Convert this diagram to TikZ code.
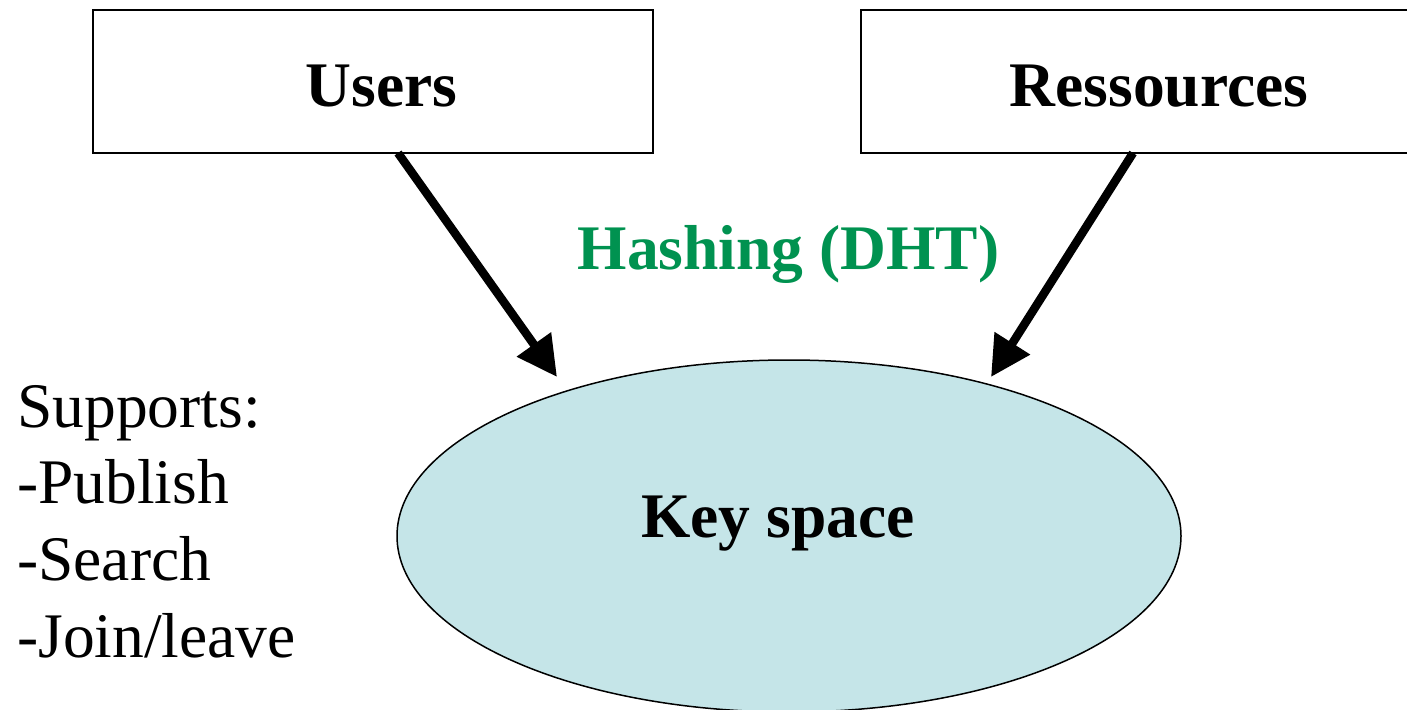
\documentclass[tikz,border=0pt]{standalone}
\usepackage{fontspec}
\setmainfont{Liberation Serif}
\usetikzlibrary{arrows.meta,shapes.geometric}
\definecolor{keyfill}{RGB}{197,229,232}
\definecolor{hashgreen}{RGB}{0,146,80}
\tikzset{
  boxstyle/.style={draw=black,line width=2pt,fill=white,rectangle,inner sep=0pt},
  bigtext/.style={font=\fontsize{63.5}{75}\selectfont,inner sep=0pt,anchor=base},
  boldtext/.style={bigtext,font=\fontsize{63.5}{75}\selectfont\bfseries},
  hasharrow/.style={line width=8.5pt,-{Triangle[length=40pt,width=40pt]}},
}
\begin{document}
\begin{tikzpicture}[x=1pt,y=-1pt]
\useasboundingbox (0,0) rectangle (1407,709);
\clip (0,0) rectangle (1407,709);
% boxes
\node[boxstyle,minimum width=560pt,minimum height=143pt] (users) at (373,81.5) {};
\node[boxstyle,minimum width=590pt,minimum height=143pt] (res) at (1156,81.5) {};
\node[boldtext] (userslbl) at (381.5,106) {Users};
\node[boldtext] (reslbl) at (1159,106) {Ressources};
% ellipse
\node[ellipse,draw=black,line width=1.5pt,fill=keyfill,minimum width=784pt,minimum height=352pt,inner sep=0pt] (key) at (789,536) {};
\node[boldtext] (keylbl) at (778,537) {Key space};
% hashing label
\node[boldtext,text=hashgreen] (hash) at (788.5,269) {Hashing (DHT)};
% supports
\node[bigtext,anchor=base west] (s1) at (17,427) {Supports:};
\node[bigtext,anchor=base west] (s2) at (17,503) {-Publish};
\node[bigtext,anchor=base west] (s3) at (17,580) {-Search};
\node[bigtext,anchor=base west] (s4) at (17,657) {-Join/leave};
% arrows
\coordinate (u1) at (398,153);
\coordinate (u2) at (557,377);
\coordinate (r1) at (1133,153);
\coordinate (r2) at (991,377);
\draw[hasharrow] (u1) -- (u2);
\draw[hasharrow] (r1) -- (r2);
\end{tikzpicture}
\end{document}
